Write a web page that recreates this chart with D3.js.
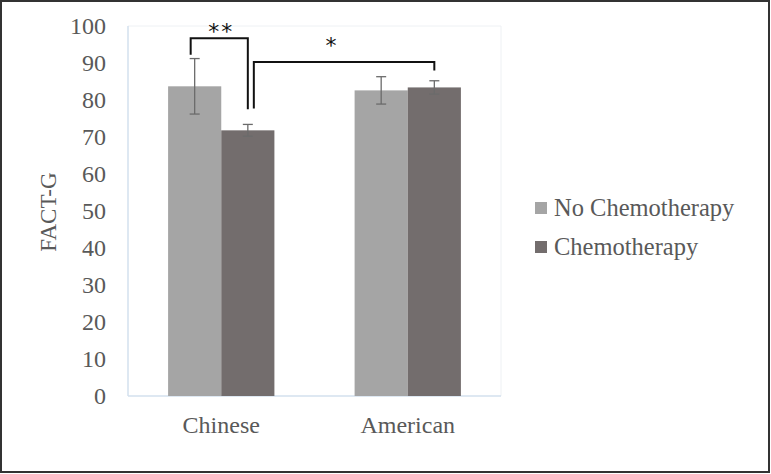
<!DOCTYPE html>
<html>
<head>
<meta charset="utf-8">
<script src="https://cdn.jsdelivr.net/npm/d3@7"></script>
<style>
  body { margin: 0; background: #fff; }
  text { font-family: "Liberation Serif", "Times New Roman", serif; fill: #595959; }
</style>
</head>
<body>
<svg id="chart" width="771" height="474"></svg>
<script>
// data
var groups = ["Chinese", "American"];
var series = ["No Chemotherapy", "Chemotherapy"];
var colors = ["#a5a5a5", "#736d6d"];
var means = [[83.7, 71.8], [82.6, 83.4]];
var errs = [[7.5, 1.6], [3.7, 1.8]];
var yTicks = [0, 10, 20, 30, 40, 50, 60, 70, 80, 90, 100];

// significance brackets (heights in FACT-G units)
var brackets = [
  {a: [0, 0], b: [0, 1], top: 96.7, dropA: 92.2, dropB: 77.5, label: "**", labelAt: 96.4, shiftA: -4, dx: 2},
  {a: [0, 1], b: [1, 1], top: 90.3, dropA: 77.7, dropB: 88.0, label: "*", labelAt: 92.7, shiftA: 6, dx: -12}
];

var svg = d3.select("#chart");
var W = 771, H = 474;

// outer frame
svg.append("rect").attr("x", 1).attr("y", 1).attr("width", W - 3).attr("height", H - 3)
  .attr("fill", "none").attr("stroke", "#333").attr("stroke-width", 2);

var pLeft = 128, pRight = 501, pTop = 26, pBottom = 396;

var x0 = d3.scaleBand().domain(groups).range([pLeft, pRight]).paddingInner(0.43).paddingOuter(0.215);
var x1 = d3.scaleBand().domain(d3.range(series.length)).range([0, x0.bandwidth()]);
var y = d3.scaleLinear().domain([0, 100]).range([pBottom, pTop]);

// plot area border
svg.append("line").attr("x1", pLeft).attr("x2", pRight).attr("y1", pTop).attr("y2", pTop).attr("stroke", "#eef1f4");
svg.append("line").attr("x1", pRight).attr("x2", pRight).attr("y1", pTop).attr("y2", pBottom).attr("stroke", "#eef1f4");
svg.append("line").attr("x1", pLeft).attr("x2", pLeft).attr("y1", pTop).attr("y2", pBottom).attr("stroke", "#d3e0ee").attr("stroke-width", 1.5);
svg.append("line").attr("x1", pLeft).attr("x2", pRight).attr("y1", pBottom).attr("y2", pBottom).attr("stroke", "#d3e0ee").attr("stroke-width", 1.5);

// y axis (labels only)
var yAxis = d3.axisLeft(y).tickValues(yTicks).tickSize(0).tickPadding(0);
var gy = svg.append("g").attr("transform", "translate(106,0)").call(yAxis);
gy.select(".domain").remove();
gy.selectAll("text").style("font-size", "24px").attr("fill", "#595959")
  .style("font-family", "'Liberation Serif', serif");

// x axis labels
var xAxis = d3.axisBottom(x0).tickSize(0).tickPadding(0);
var gx = svg.append("g").attr("transform", "translate(0,416)").call(xAxis);
gx.select(".domain").remove();
gx.selectAll("text").style("font-size", "24px").attr("fill", "#595959")
  .style("font-family", "'Liberation Serif', serif");

// y title
svg.append("text").attr("transform", "translate(56,212) rotate(-90)")
  .attr("text-anchor", "middle").style("font-size", "23px").text("FACT-G");

// bars
var flat = [];
groups.forEach(function(g, gi) {
  series.forEach(function(s, si) {
    flat.push({g: g, si: si, v: means[gi][si], e: errs[gi][si]});
  });
});

function cx(gi, si) { return x0(groups[gi]) + x1(si) + x1.bandwidth() / 2; }

svg.selectAll("rect.bar").data(flat).enter().append("rect")
  .attr("class", "bar")
  .attr("x", function(d) { return x0(d.g) + x1(d.si); })
  .attr("width", x1.bandwidth())
  .attr("y", function(d) { return y(d.v); })
  .attr("height", function(d) { return y(0) - y(d.v); })
  .attr("fill", function(d) { return colors[d.si]; });

// error bars
var eb = svg.selectAll("g.err").data(flat).enter().append("g").attr("class", "err")
  .attr("stroke", "#6b6b6b").attr("stroke-width", 1.3);
eb.append("line")
  .attr("x1", function(d) { return x0(d.g) + x1(d.si) + x1.bandwidth() / 2; })
  .attr("x2", function(d) { return x0(d.g) + x1(d.si) + x1.bandwidth() / 2; })
  .attr("y1", function(d) { return y(d.v + d.e); })
  .attr("y2", function(d) { return y(d.v - d.e); });
[1, -1].forEach(function(sign) {
  eb.append("line")
    .attr("x1", function(d) { return x0(d.g) + x1(d.si) + x1.bandwidth() / 2 - 5; })
    .attr("x2", function(d) { return x0(d.g) + x1(d.si) + x1.bandwidth() / 2 + 5; })
    .attr("y1", function(d) { return y(d.v + sign * d.e); })
    .attr("y2", function(d) { return y(d.v + sign * d.e); });
});

// significance brackets
brackets.forEach(function(b) {
  var xa = cx(b.a[0], b.a[1]) + b.shiftA, xb = cx(b.b[0], b.b[1]);
  svg.append("path")
    .attr("d", "M" + xa + "," + y(b.dropA) + "V" + y(b.top) + "H" + xb + "V" + y(b.dropB))
    .attr("fill", "none").attr("stroke", "#111").attr("stroke-width", 2);
  svg.append("text").attr("x", (xa + xb) / 2 + b.dx).attr("y", y(b.labelAt))
    .attr("text-anchor", "middle").style("font-size", "22px").style("fill", "#111")
    .style("font-family", "'DejaVu Sans', sans-serif").style("letter-spacing", "2px")
    .text(b.label);
});

// legend
var lg = svg.selectAll("g.leg").data(series).enter().append("g").attr("class", "leg")
  .attr("transform", function(d, i) { return "translate(535," + (202 + i * 39) + ")"; });
lg.append("rect").attr("width", 12).attr("height", 12)
  .attr("fill", function(d, i) { return colors[i]; });
lg.append("text").attr("x", 19).attr("y", 13.5).style("font-size", "24.5px").text(function(d) { return d; });
</script>
</body>
</html>
